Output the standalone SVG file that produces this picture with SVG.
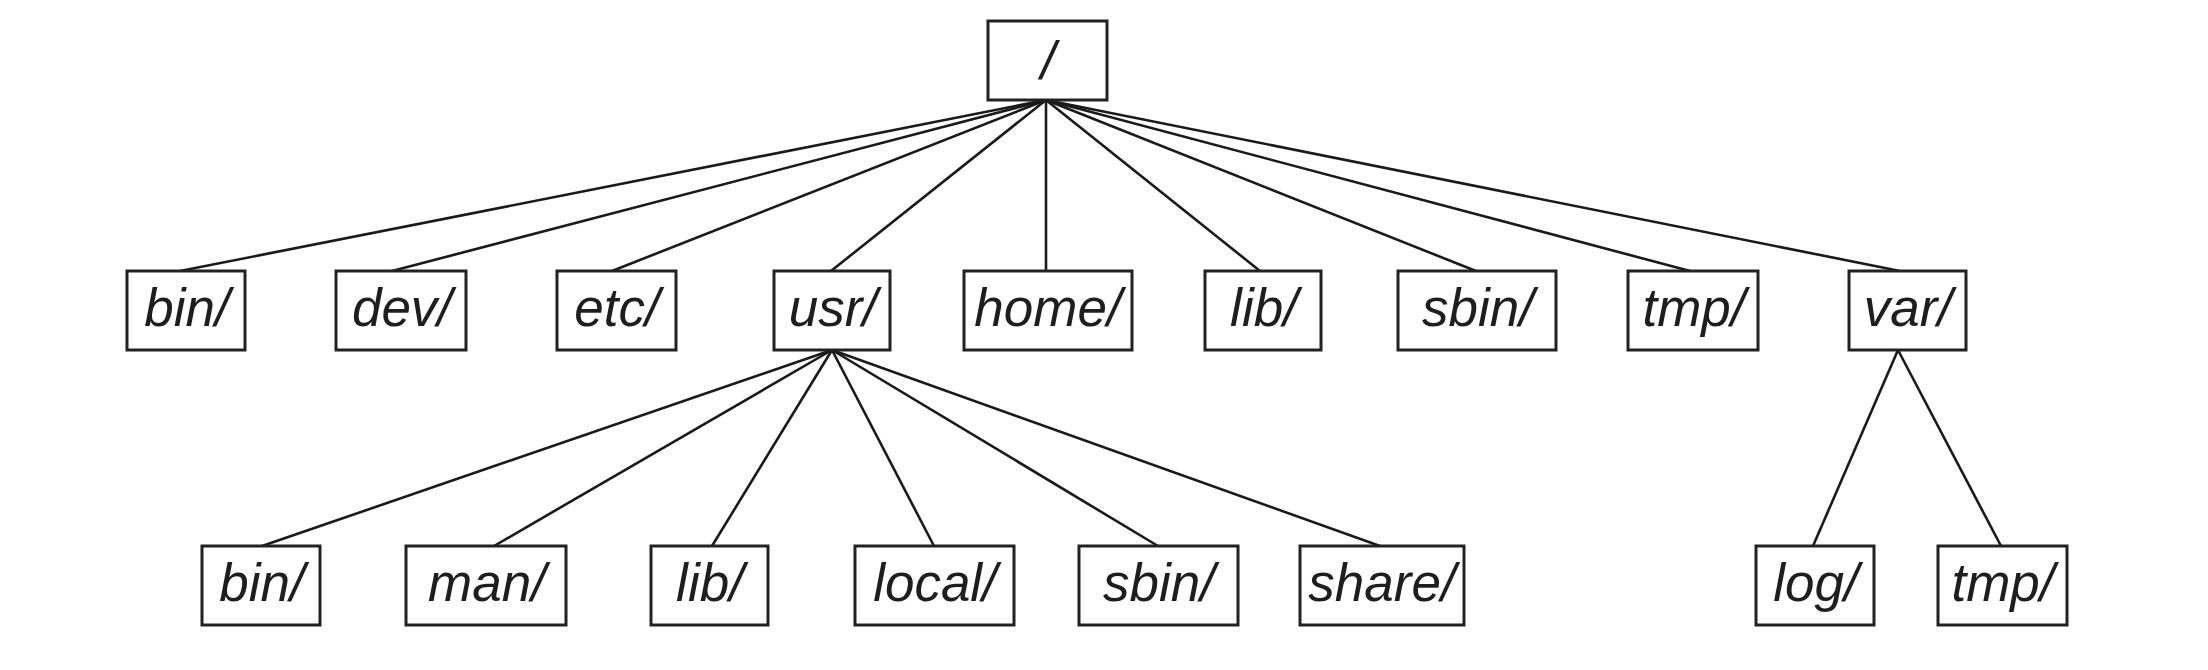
<svg xmlns="http://www.w3.org/2000/svg" width="2208" height="670" viewBox="0 0 2208 670">
<style>
.box{fill:#fff;stroke:#222;stroke-width:3}
.lbl{font-family:"Liberation Sans","DejaVu Sans",sans-serif;font-style:italic;font-size:53px;fill:#1e1e1e;text-anchor:middle}
.edge{stroke:#1a1a1a;stroke-width:2.6;fill:none}
</style>
<rect width="2208" height="670" fill="#fff"/>
<g id="connectors">
<line class="edge" x1="1046" y1="100" x2="180" y2="271"/>
<line class="edge" x1="1046" y1="100" x2="392" y2="271"/>
<line class="edge" x1="1046" y1="100" x2="612" y2="271"/>
<line class="edge" x1="1046" y1="100" x2="831" y2="271"/>
<line class="edge" x1="1046" y1="100" x2="1046" y2="271"/>
<line class="edge" x1="1046" y1="100" x2="1260" y2="271"/>
<line class="edge" x1="1046" y1="100" x2="1476" y2="271"/>
<line class="edge" x1="1046" y1="100" x2="1690" y2="271"/>
<line class="edge" x1="1046" y1="100" x2="1900" y2="271"/>
<line class="edge" x1="832" y1="350" x2="262" y2="546"/>
<line class="edge" x1="832" y1="350" x2="494" y2="546"/>
<line class="edge" x1="832" y1="350" x2="712" y2="546"/>
<line class="edge" x1="832" y1="350" x2="934" y2="546"/>
<line class="edge" x1="832" y1="350" x2="1158" y2="546"/>
<line class="edge" x1="832" y1="350" x2="1380" y2="546"/>
<line class="edge" x1="1898" y1="350" x2="1813" y2="546"/>
<line class="edge" x1="1898" y1="350" x2="2001" y2="546"/>
</g>
<g id="root"><rect class="box" x="988" y="21" width="119" height="79"/><text class="lbl" x="1048" y="79">/</text></g>
<g id="bin"><rect class="box" x="127" y="271" width="118" height="79"/><text class="lbl" x="187" y="326">bin/</text></g>
<g id="dev"><rect class="box" x="336" y="271" width="130" height="79"/><text class="lbl" x="402" y="326">dev/</text></g>
<g id="etc"><rect class="box" x="557" y="271" width="119" height="79"/><text class="lbl" x="617" y="326">etc/</text></g>
<g id="usr"><rect class="box" x="774" y="271" width="116" height="79"/><text class="lbl" x="833" y="326">usr/</text></g>
<g id="home"><rect class="box" x="964" y="271" width="168" height="79"/><text class="lbl" x="1048" y="326">home/</text></g>
<g id="lib"><rect class="box" x="1205" y="271" width="116" height="79"/><text class="lbl" x="1264" y="326">lib/</text></g>
<g id="sbin"><rect class="box" x="1398" y="271" width="158" height="79"/><text class="lbl" x="1478" y="326">sbin/</text></g>
<g id="tmp"><rect class="box" x="1628" y="271" width="130" height="79"/><text class="lbl" x="1694" y="326">tmp/</text></g>
<g id="var"><rect class="box" x="1849" y="271" width="117" height="79"/><text class="lbl" x="1908" y="326">var/</text></g>
<g id="usr-bin"><rect class="box" x="202" y="546" width="118" height="79"/><text class="lbl" x="262" y="601">bin/</text></g>
<g id="usr-man"><rect class="box" x="406" y="546" width="160" height="79"/><text class="lbl" x="487" y="601">man/</text></g>
<g id="usr-lib"><rect class="box" x="651" y="546" width="117" height="79"/><text class="lbl" x="710" y="601">lib/</text></g>
<g id="usr-local"><rect class="box" x="855" y="546" width="159" height="79"/><text class="lbl" x="935" y="601">local/</text></g>
<g id="usr-sbin"><rect class="box" x="1079" y="546" width="159" height="79"/><text class="lbl" x="1159" y="601">sbin/</text></g>
<g id="usr-share"><rect class="box" x="1300" y="546" width="164" height="79"/><text class="lbl" x="1382" y="601">share/</text></g>
<g id="var-log"><rect class="box" x="1756" y="546" width="118" height="79"/><text class="lbl" x="1816" y="601">log/</text></g>
<g id="var-tmp"><rect class="box" x="1938" y="546" width="129" height="79"/><text class="lbl" x="2003" y="601">tmp/</text></g>
</svg>
